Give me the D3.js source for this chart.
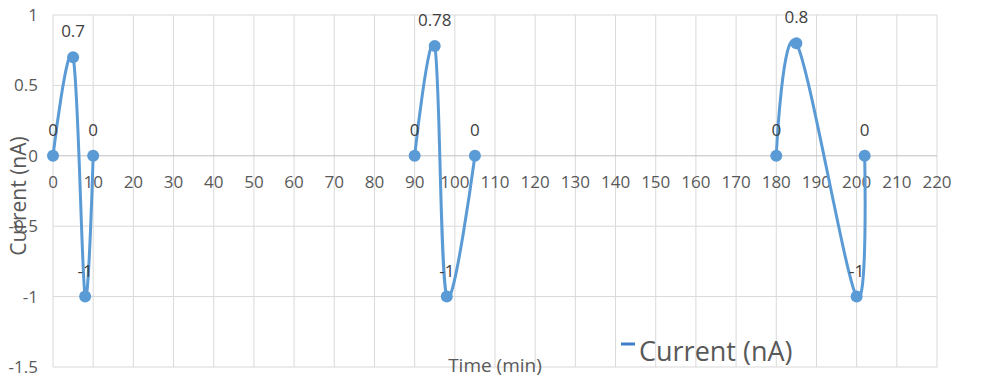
<!DOCTYPE html>
<html>
<head>
<meta charset="utf-8">
<script src="https://cdn.jsdelivr.net/npm/d3@7"></script>
<style>
  body { margin: 0; background: #fff; }
  text { font-family: "Open Sans", sans-serif; fill: #595959; }
</style>
</head>
<body>
<svg id="chart" width="1000" height="380"></svg>
<script>
// values
const times = [0, 5, 8, 10, 90, 95, 98, 105, 180, 185, 200, 202];
const currents = [0, 0.7, -1, 0, 0, 0.78, -1, 0, 0, 0.8, -1, 0];
const cycles = [1, 1, 1, 1, 2, 2, 2, 2, 3, 3, 3, 3];
const xTicks = d3.range(0, 221, 10);
const yTicks = [1, 0.5, 0, -0.5, -1, -1.5];

const lineColor = '#5B9BD5',
    gridColor = '#D9D9D9';

const svg = d3.select('#chart');

const x = d3.scaleLinear().domain([0, 220]).range([53, 937]),
    y = d3.scaleLinear().domain([-1.5, 1]).range([367, 15]);

const points = times.map((t, i) => ({ t, c: currents[i], cycle: cycles[i] }));

// grid
svg.append('g')
    .selectAll('line')
    .data(xTicks)
    .join('line')
    .attr('x1', d => x(d)).attr('x2', d => x(d))
    .attr('y1', y(1)).attr('y2', y(-1.5))
    .attr('stroke', gridColor)
    .attr('stroke-width', 1);

svg.append('g')
    .selectAll('line')
    .data(yTicks)
    .join('line')
    .attr('x1', x(0)).attr('x2', x(220))
    .attr('y1', d => y(d)).attr('y2', d => y(d))
    .attr('stroke', d => d === 0 ? '#BFBFBF' : gridColor)
    .attr('stroke-width', 1);

// y tick labels
svg.append('g')
    .selectAll('text')
    .data(yTicks)
    .join('text')
    .attr('x', 38)
    .attr('y', d => y(d))
    .attr('dy', '0.35em')
    .attr('text-anchor', 'end')
    .style('font-size', '17px')
    .text(d => d);

// x tick labels, along the zero line
svg.append('g')
    .selectAll('text')
    .data(xTicks)
    .join('text')
    .attr('x', d => x(d))
    .attr('y', y(0) + 26)
    .attr('dy', '0.35em')
    .attr('text-anchor', 'middle')
    .style('font-size', '17px')
    .text(d => d);

// axis titles
svg.append('text')
    .attr('transform', 'translate(19,196) rotate(-90)')
    .attr('dy', '0.35em')
    .attr('text-anchor', 'middle')
    .style('font-size', '21px')
    .text('Current (nA)');

svg.append('text')
    .attr('x', 495)
    .attr('y', 365)
    .attr('dy', '0.35em')
    .attr('text-anchor', 'middle')
    .style('font-size', '19px')
    .text('Time (min)');

// series
const line = d3.line()
    .x(d => x(d.t))
    .y(d => y(d.c))
    .curve(d3.curveCatmullRom.alpha(0));

const groups = d3.groups(points, d => d.cycle);

svg.append('g')
    .selectAll('path')
    .data(groups)
    .join('path')
    .attr('d', d => line(d[1]))
    .attr('fill', 'none')
    .attr('stroke', lineColor)
    .attr('stroke-width', 3);

svg.append('g')
    .selectAll('circle')
    .data(points)
    .join('circle')
    .attr('cx', d => x(d.t))
    .attr('cy', d => y(d.c))
    .attr('r', 6)
    .attr('fill', lineColor);

// data labels
svg.append('g')
    .selectAll('text')
    .data(points)
    .join('text')
    .attr('x', d => x(d.t))
    .attr('y', d => y(d.c) - 26)
    .attr('dy', '0.35em')
    .attr('text-anchor', 'middle')
    .style('font-size', '17px')
    .style('fill', '#404040')
    .text(d => d.c);

// legend
const legend = svg.append('g')
    .attr('transform', 'translate(621,344)');

legend.append('line')
    .attr('x1', 0).attr('x2', 14)
    .attr('stroke', '#3F7FC8')
    .attr('stroke-width', 3);

legend.append('text')
    .attr('x', 18)
    .attr('y', 8)
    .attr('dy', '0.35em')
    .style('font-size', '27px')
    .text('Current (nA)');
</script>
</body>
</html>
